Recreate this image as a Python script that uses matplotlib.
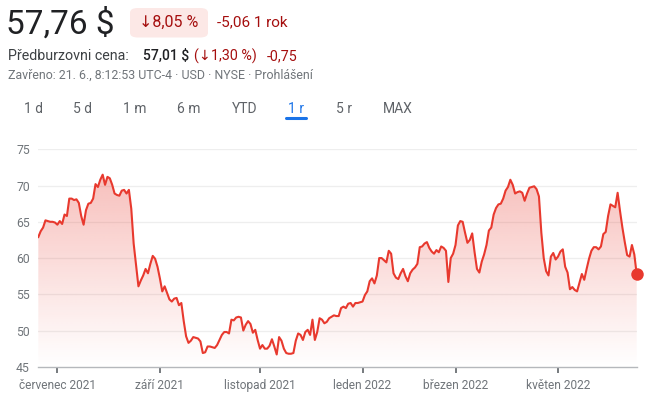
import numpy as np
import matplotlib
matplotlib.use("Agg")
import matplotlib.pyplot as plt
from matplotlib.patches import FancyBboxPatch, Polygon
from matplotlib.colors import to_rgb

# ---- data: closing price per trading day (21.6.2021 - 17.6.2022) ----
prices = [
    62.9, 63.7, 64.2, 65.2, 65.1, 65.0, 65.0, 64.9, 64.6, 65.1, 64.7, 66.0,
    65.8, 68.2, 68.2, 68.0, 68.1, 67.6, 65.8, 64.6, 66.6, 67.5, 67.6, 68.2,
    70.2, 69.8, 70.8, 71.5, 70.1, 71.2, 71.0, 70.1, 68.9, 68.7, 68.6, 69.3,
    69.4, 68.9, 69.4, 66.8, 62.0, 59.0, 56.1, 56.9, 57.6, 58.5, 57.9, 59.2,
    60.3, 59.9, 58.8, 57.2, 55.4, 56.1, 55.2, 54.3, 54.0, 54.4, 54.5, 53.5,
    53.8, 51.3, 49.2, 48.3, 48.6, 49.1, 49.0, 48.9, 48.5, 46.9, 47.0, 47.8,
    47.8, 47.7, 47.6, 48.0, 48.7, 49.4, 49.8, 49.8, 49.6, 51.5, 51.4, 51.8,
    51.9, 51.8, 50.0, 50.8, 51.3, 50.9, 49.7, 50.1, 48.7, 47.5, 48.0, 47.5,
    47.5, 47.9, 48.8, 47.8, 46.7, 49.1, 48.6, 47.5, 46.9, 46.8, 46.8, 46.9,
    48.6, 49.6, 49.4, 48.7, 49.8, 50.1, 49.4, 51.5, 48.7, 49.8, 51.7, 51.5,
    51.0, 51.2, 51.7, 51.9, 52.1, 52.0, 52.0, 53.1, 53.3, 53.1, 53.7, 53.8,
    53.3, 53.8, 53.8, 53.9, 54.0, 54.9, 55.4, 56.8, 57.2, 56.5, 57.6, 60.0,
    60.0, 59.7, 59.4, 61.0, 60.6, 57.9, 57.3, 57.1, 57.9, 58.5, 57.5, 56.8,
    57.9, 58.4, 58.7, 59.2, 61.5, 61.6, 62.0, 62.2, 61.4, 60.9, 60.6, 61.1,
    60.8, 61.6, 61.4, 61.0, 56.7, 60.0, 60.6, 61.8, 64.5, 65.1, 65.0, 63.5,
    62.1, 62.5, 63.4, 60.8, 58.5, 58.0, 59.5, 60.5, 61.8, 63.8, 64.2, 66.0,
    66.9, 67.4, 67.5, 68.2, 69.3, 69.8, 70.8, 70.1, 68.9, 69.1, 69.2, 69.0,
    67.9, 68.9, 69.7, 69.8, 69.9, 69.5, 68.5, 63.5, 60.0, 58.2, 57.6, 60.2,
    60.7, 59.8, 60.2, 60.9, 61.2, 58.8, 58.0, 55.7, 56.0, 55.6, 55.4, 56.6,
    57.8, 57.0, 58.5, 59.9, 61.0, 61.5, 61.5, 61.2, 61.6, 63.3, 63.6, 65.8,
    67.4, 67.2, 67.0, 69.0, 66.5, 64.2, 62.2, 60.4, 60.2, 61.8, 60.5, 57.76,
]
tick_days = [8, 51, 93, 136, 175, 218]
tick_labels = ["červenec 2021", "září 2021", "listopad 2021",
               "leden 2022", "březen 2022", "květen 2022"]
y_ticks = [45, 50, 55, 60, 65, 70, 75]
ranges = ["1 d", "5 d", "1 m", "6 m", "YTD", "1 r", "5 r", "MAX"]
active_range = "1 r"

# ---- style ----
FONT = ["Roboto", "DejaVu Sans"]
plt.rcParams["font.family"] = FONT
RED = "#e8392e"
DARKRED = "#a50e0e"
GREY = "#70757a"
W, H = 650, 399

fig = plt.figure(figsize=(6.5, 3.99), dpi=100)
fig.patch.set_facecolor("white")


def fx(px):
    return px / W


def fy(py):
    return 1 - py / H


# ---- header ----
fig.text(fx(6), fy(24), "57,76 $", fontsize=24, color="#202124", va="center", ha="left")
badge = FancyBboxPatch((fx(130), fy(37.5)), fx(78), (29.5 / H),
                       boxstyle="round,pad=0,rounding_size=0.012",
                       transform=fig.transFigure, facecolor="#fce8e6",
                       edgecolor="none")
fig.patches.append(badge)
fig.text(fx(169), fy(22.5), "↓8,05 %", fontsize=11.5, color=DARKRED,
         va="center", ha="center")
fig.text(fx(217), fy(22.5), "-5,06 1 rok", fontsize=11, color=DARKRED,
         va="center", ha="left")

fig.text(fx(8), fy(56), "Předburzovni cena:", fontsize=10.3, color="#3c4043",
         va="center", ha="left")
fig.text(fx(143), fy(56), "57,01 $", fontsize=10, color="#202124",
         fontweight="medium", va="center", ha="left")
fig.text(fx(194), fy(56), "(↓1,30 %)", fontsize=10.3, color=DARKRED,
         va="center", ha="left")
fig.text(fx(267), fy(56), "-0,75", fontsize=10.3, color=DARKRED,
         va="center", ha="left")
fig.text(fx(8), fy(75.5), "Zavřeno: 21. 6., 8:12:53 UTC-4 · USD · NYSE · Prohlášení",
         fontsize=8.9, color=GREY, va="center", ha="left")

tab_x = [33, 82.5, 134.5, 188.5, 244.5, 296, 343.5, 398]
for lbl, cx in zip(ranges, tab_x):
    active = lbl == active_range
    fig.text(fx(cx), fy(109), lbl, fontsize=10,
             color="#1a73e8" if active else "#5f6368",
             va="center", ha="center")
    if active:
        fig.lines.append(plt.Line2D([fx(cx - 10), fx(cx + 10)], [fy(118), fy(118)],
                                    transform=fig.transFigure, color="#1a73e8",
                                    linewidth=2.2, solid_capstyle="round"))

# ---- chart ----
left, right, top, bottom = 38.3, 636.7, 149.3, 366.8
ax = fig.add_axes([fx(left), fy(bottom), fx(right - left), (bottom - top) / H])
days = np.arange(len(prices))
y = np.array(prices)

ax.set_xlim(days[0], days[-1])
ax.set_ylim(y_ticks[0], y_ticks[-1])

for t in y_ticks[1:]:
    ax.axhline(t, color="#eeeeee", linewidth=0.9, zorder=0)

# gradient fill under the line
r, g, b = to_rgb(RED)
n = 256
grad = np.zeros((n, 1, 4))
grad[:, 0, 0] = r
grad[:, 0, 1] = g
grad[:, 0, 2] = b
grad[:, 0, 3] = np.linspace(0.36, 0.0, n)
img = ax.imshow(grad, aspect="auto", origin="upper",
                extent=[days[0], days[-1], y_ticks[0], y_ticks[-1]],
                zorder=1, interpolation="bilinear")
verts = np.column_stack([np.concatenate([days, [days[-1], days[0]]]),
                         np.concatenate([y, [y_ticks[0], y_ticks[0]]])])
poly = Polygon(verts, closed=True, facecolor="none", edgecolor="none",
               transform=ax.transData)
ax.add_patch(poly)
img.set_clip_path(poly)

ax.plot(days, y, color=RED, linewidth=1.5, zorder=3, solid_joinstyle="round")
ax.plot(days[-1:], y[-1:], "o", color=RED, markersize=9, zorder=4, clip_on=False,
        markeredgewidth=0)

for s in ["top", "right", "left"]:
    ax.spines[s].set_visible(False)
ax.spines["bottom"].set_color("#b5b8bc")
ax.spines["bottom"].set_linewidth(1.0)

ax.set_yticks(y_ticks)
ax.set_yticklabels([str(t) for t in y_ticks])
ax.tick_params(axis="y", length=0, pad=6, labelsize=8.8, labelcolor=GREY)
ax.set_xticks(tick_days)
ax.set_xticklabels(tick_labels)
ax.tick_params(axis="x", length=4, width=1.2, color="#5f6368", pad=5,
               labelsize=8.6, labelcolor=GREY)
ax.set_facecolor("none")

fig.savefig("out.png", dpi=100, facecolor="white")
